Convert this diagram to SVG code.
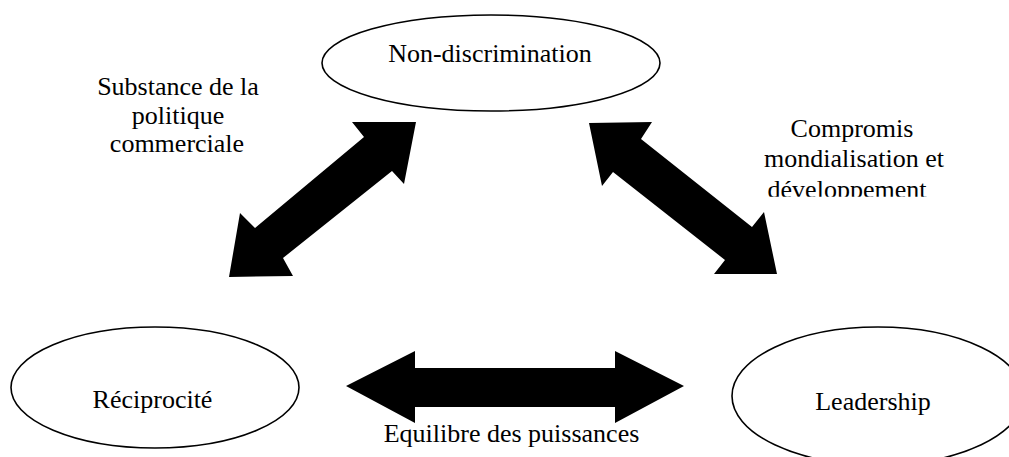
<svg xmlns="http://www.w3.org/2000/svg" width="1009" height="457" viewBox="0 0 1009 457">
  <style>
    .node { fill: #ffffff; stroke: #000000; stroke-width: 1.6; }
    .lbl { font-size: 26px; fill: #000000; text-anchor: middle; }
    .arrow { fill: #000000; stroke: none; }
  </style>
  <defs>
    <clipPath id="clipComp">
      <rect x="700" y="100" width="300" height="96.8"/>
    </clipPath>
  </defs>
  <rect x="0" y="0" width="1009" height="457" fill="#ffffff"/>

  <g id="connectors">
    <polygon class="arrow" points="416,122 404,184 392,171 283,258 293,276 229,277 240,213 255,228 364,137 352,122"/>
    <polygon class="arrow" points="589,123 652,122 641,139 752,227 764,212 777,274 714,274 725,260 613,172 602,186"/>
    <polygon class="arrow" points="346,386 415,351 415,368 615,368 615,351 684,386 615,423 615,407 415,407 415,423"/>
  </g>

  <g font-family="'Liberation Serif', serif">
  <g id="node-nondiscrimination">
    <ellipse class="node" cx="491" cy="63" rx="169" ry="48"/>
    <text class="lbl" x="490" y="62">Non-discrimination</text>
  </g>

  <g id="node-reciprocite">
    <ellipse class="node" cx="155" cy="387.5" rx="144" ry="60.5"/>
    <text class="lbl" x="152.5" y="408">Réciprocité</text>
  </g>

  <g id="node-leadership">
    <ellipse class="node" cx="878" cy="396" rx="146" ry="69"/>
    <text class="lbl" x="873" y="410">Leadership</text>
  </g>

  <g id="label-substance">
    <text class="lbl" x="178" y="95">Substance de la</text>
    <text class="lbl" x="178" y="124">politique</text>
    <text class="lbl" x="177" y="152">commerciale</text>
  </g>

  <g id="label-compromis" clip-path="url(#clipComp)">
    <text class="lbl" x="852" y="137">Compromis</text>
    <text class="lbl" x="854" y="167">mondialisation et</text>
    <text class="lbl" x="847" y="197.5">développement</text>
  </g>

  <g id="label-equilibre">
    <text class="lbl" x="511.5" y="442">Equilibre des puissances</text>
  </g>
  </g>
</svg>
